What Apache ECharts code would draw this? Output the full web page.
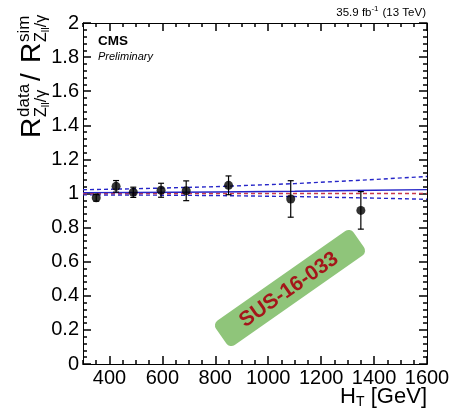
<!DOCTYPE html>
<html>
<head>
<meta charset="utf-8">
<script src="https://cdn.jsdelivr.net/npm/echarts@6/dist/echarts.min.js"></script>
<style>
  html, body { margin: 0; padding: 0; background: #fff; }
  #chart { width: 450px; height: 409px; }
</style>
</head>
<body>
<div id="chart"></div>
<script>
// Measured double ratio per H_T bin
const htValues    = [350, 425, 490, 595, 690, 850, 1085, 1350];
const ratioValues = [0.975, 1.042, 1.007, 1.019, 1.016, 1.048, 0.968, 0.901];
const ratioErrors = [0.02, 0.034, 0.03, 0.041, 0.058, 0.055, 0.107, 0.11];

// Linear fit with its uncertainty band, and unity reference
const fitHT      = [300, 500, 800, 1100, 1400, 1600];
const fitCentral = [1.005, 1.006, 1.009, 1.013, 1.019, 1.023];
const fitUpper   = [1.022, 1.028, 1.040, 1.058, 1.082, 1.100];
const fitLower   = [0.992, 0.991, 0.988, 0.982, 0.973, 0.966];
const unityValues = [1, 1, 1, 1, 1, 1];

// Axis ticks
const xMajorTicks = [400, 600, 800, 1000, 1200, 1400, 1600];
const yTickStep = 0.2;

const FONT = '"Liberation Sans", Arial, Helvetica, sans-serif';
const BLUE = '#2626c8';
const RED = '#c8384c';
const TICK = { color: '#000', width: 1.5 };

const pairs = (xs, ys) => xs.map((x, i) => [x, ys[i]]);

const chart = echarts.init(document.getElementById('chart'));

const minorX = (position) => ({
  type: 'value', min: 300, max: 1600, interval: 50, position,
  axisLine: { show: true, onZero: false, lineStyle: { color: '#000', width: 1 } },
  axisTick: { show: true, inside: true, length: 4, lineStyle: TICK },
  axisLabel: position === 'bottom'
    ? { show: true, customValues: xMajorTicks, formatter: (v) => String(v), fontSize: 20, color: '#000', fontFamily: FONT, margin: 4 }
    : { show: false },
  splitLine: { show: false }
});
const majorX = (position) => ({
  type: 'value', min: 300, max: 1600, position,
  axisLine: { show: true, onZero: false, lineStyle: { color: '#000', width: 1 } },
  axisTick: { show: true, inside: true, length: 8, customValues: xMajorTicks, lineStyle: TICK },
  axisLabel: { show: false },
  splitLine: { show: false }
});
const yAxisDef = (position) => ({
  type: 'value', min: 0, max: 2, interval: yTickStep, position,
  axisLine: { show: true, onZero: false, lineStyle: { color: '#000', width: 1 } },
  axisTick: { show: true, inside: true, length: 8, lineStyle: TICK },
  minorTick: { show: true, splitNumber: 5, length: 4, lineStyle: TICK },
  axisLabel: position === 'left'
    ? { show: true, fontSize: 20, color: '#000', fontFamily: FONT, margin: 4 }
    : { show: false },
  splitLine: { show: false }
});

const lineSeries = (ys, color, dashed, z) => ({
  type: 'line', xAxisIndex: 0, yAxisIndex: 0,
  data: pairs(fitHT, ys),
  showSymbol: false, symbol: 'none', silent: true,
  lineStyle: { color, width: 1.4, type: dashed ? [4, 3] : 'solid' },
  z
});

// Y-axis title: R^data_{Z_ll/γ} / R^sim_{Z_ll/γ}, drawn along the axis
const t = (text, x, y, size, extra) => ({
  type: 'text',
  style: Object.assign({ text, x, y, font: `${size}px ${FONT}`, fill: '#000', align: 'left', verticalAlign: 'middle' }, extra || {})
});
const ratioPart = (x0) => [
  t('R', x0, 42 - 9.8, 28),
  t(x0 === 0 ? 'data' : 'sim', x0 + 21, 30 - 6, 17),
  t('Z', x0 + 21, 47 - 5.6, 16),
  t('ll', x0 + 30.8, 50 - 3.9, 11),
  t('/γ', x0 + 35.7, 47 - 5.6, 16)
];

const option = {
  animation: false,
  backgroundColor: '#fff',
  grid: { left: 83, right: 23, top: 23, bottom: 45, containLabel: false, outerBoundsMode: 'none' },
  xAxis: [minorX('bottom'), majorX('bottom'), minorX('top'), majorX('top')],
  yAxis: [yAxisDef('left'), yAxisDef('right')],
  series: [
    lineSeries(fitUpper, BLUE, true, 2),
    lineSeries(fitLower, BLUE, true, 2),
    lineSeries(unityValues, RED, true, 3),
    lineSeries(fitCentral, BLUE, false, 3),
    {
      type: 'custom', xAxisIndex: 0, yAxisIndex: 0, z: 4, silent: true,
      data: htValues.map((h, i) => [h, ratioValues[i], ratioErrors[i]]),
      renderItem(params, api) {
        const x = api.value(0), y = api.value(1), e = api.value(2);
        const hi = api.coord([x, y + e]);
        const lo = api.coord([x, y - e]);
        const cap = 3;
        const st = { stroke: '#000', lineWidth: 1.2 };
        return {
          type: 'group',
          children: [
            { type: 'line', shape: { x1: hi[0], y1: hi[1], x2: lo[0], y2: lo[1] }, style: st },
            { type: 'line', shape: { x1: hi[0] - cap, y1: hi[1], x2: hi[0] + cap, y2: hi[1] }, style: st },
            { type: 'line', shape: { x1: lo[0] - cap, y1: lo[1], x2: lo[0] + cap, y2: lo[1] }, style: st }
          ]
        };
      }
    },
    {
      type: 'scatter', xAxisIndex: 0, yAxisIndex: 0, z: 5, silent: true,
      data: pairs(htValues, ratioValues),
      symbol: 'circle', symbolSize: 9,
      itemStyle: { color: '#000' }
    }
  ],
  graphic: [
    // Experiment label
    t('CMS', 98, 41.5, 13.5, { font: `bold 13.5px ${FONT}` }),
    t('Preliminary', 98, 56.5, 11, { font: `italic 11px ${FONT}` }),
    // Luminosity and energy
    t(' (13 TeV)', 426, 13, 11.5, { align: 'right' }),
    t('-1', 378.5, 9, 8, { align: 'right' }),
    t('35.9 fb', 371.5, 13, 11.5, { align: 'right' }),
    // X-axis title
    t(' [GeV]', 427, 397, 22, { align: 'right' }),
    t('T', 364.6, 402, 14, { align: 'right' }),
    t('H', 356, 397, 22, { align: 'right' }),
    // Y-axis title
    {
      type: 'group', x: 0, y: 138, rotation: Math.PI / 2,
      children: [].concat(ratioPart(0), [t('/', 57, 42 - 9.8, 28)], ratioPart(75))
    },
    // Analysis stamp
    {
      type: 'group', x: 290, y: 288, rotation: 35 * Math.PI / 180, z: 100,
      children: [
        { type: 'rect', shape: { x: -84, y: -15, width: 168, height: 30, r: 6 }, style: { fill: '#8fc57a' } },
        { type: 'text', style: { text: 'SUS-16-033', x: -2, y: 1, font: `bold 21px ${FONT}`, fill: '#a4161a', align: 'center', verticalAlign: 'middle' } }
      ]
    }
  ]
};

chart.setOption(option);
</script>
</body>
</html>
